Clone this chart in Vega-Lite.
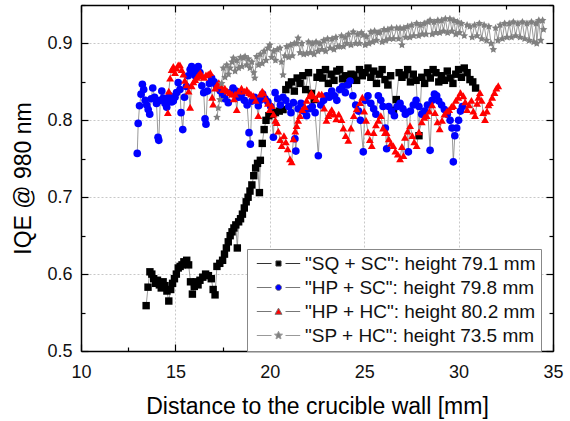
{
  "$schema": "https://vega.github.io/schema/vega-lite/v6.json",
  "width": 472,
  "height": 346,
  "autosize": {"type": "none"},
  "padding": {"left": 81, "top": 5, "right": 17, "bottom": 70},
  "config": {"view": {"stroke": null}, "font": "Liberation Sans"},
  "data": {"values": [
{"s":"A","x":13.45,"y":0.559},{"s":"A","x":13.55,"y":0.583},{"s":"A","x":13.65,"y":0.603},{"s":"A","x":13.75,"y":0.6},{"s":"A","x":13.85,"y":0.594},{"s":"A","x":13.95,"y":0.588},{"s":"A","x":14.05,"y":0.592},{"s":"A","x":14.15,"y":0.586},{"s":"A","x":14.25,"y":0.582},{"s":"A","x":14.35,"y":0.59},{"s":"A","x":14.45,"y":0.585},{"s":"A","x":14.55,"y":0.578},{"s":"A","x":14.65,"y":0.565},{"s":"A","x":14.75,"y":0.58},{"s":"A","x":14.85,"y":0.588},{"s":"A","x":14.95,"y":0.594},{"s":"A","x":15.05,"y":0.6},{"s":"A","x":15.15,"y":0.608},{"s":"A","x":15.25,"y":0.61},{"s":"A","x":15.35,"y":0.612},{"s":"A","x":15.45,"y":0.616},{"s":"A","x":15.6,"y":0.618},{"s":"A","x":15.7,"y":0.612},{"s":"A","x":15.8,"y":0.59},{"s":"A","x":15.9,"y":0.574},{"s":"A","x":16.0,"y":0.584},{"s":"A","x":16.1,"y":0.59},{"s":"A","x":16.2,"y":0.586},{"s":"A","x":16.3,"y":0.592},{"s":"A","x":16.45,"y":0.596},{"s":"A","x":16.6,"y":0.6},{"s":"A","x":16.75,"y":0.598},{"s":"A","x":16.9,"y":0.594},{"s":"A","x":17.0,"y":0.58},{"s":"A","x":17.1,"y":0.573},{"s":"A","x":17.2,"y":0.61},{"s":"A","x":17.35,"y":0.614},{"s":"A","x":17.5,"y":0.618},{"s":"A","x":17.6,"y":0.626},{"s":"A","x":17.7,"y":0.634},{"s":"A","x":17.8,"y":0.642},{"s":"A","x":17.9,"y":0.65},{"s":"A","x":18.0,"y":0.655},{"s":"A","x":18.1,"y":0.66},{"s":"A","x":18.2,"y":0.664},{"s":"A","x":18.28,"y":0.634},{"s":"A","x":18.35,"y":0.668},{"s":"A","x":18.45,"y":0.672},{"s":"A","x":18.55,"y":0.678},{"s":"A","x":18.65,"y":0.686},{"s":"A","x":18.75,"y":0.694},{"s":"A","x":18.85,"y":0.7},{"s":"A","x":18.95,"y":0.708},{"s":"A","x":19.05,"y":0.716},{"s":"A","x":19.15,"y":0.728},{"s":"A","x":19.25,"y":0.738},{"s":"A","x":19.35,"y":0.744},{"s":"A","x":19.45,"y":0.706},{"s":"A","x":19.5,"y":0.748},{"s":"A","x":19.6,"y":0.77},{"s":"A","x":19.7,"y":0.788},{"s":"A","x":19.8,"y":0.8},{"s":"A","x":19.95,"y":0.806},{"s":"A","x":20.1,"y":0.808},{"s":"A","x":20.3,"y":0.81},{"s":"A","x":20.5,"y":0.812},{"s":"A","x":20.7,"y":0.814},{"s":"A","x":20.85,"y":0.84},{"s":"A","x":21.0,"y":0.846},{"s":"A","x":21.15,"y":0.85},{"s":"A","x":21.3,"y":0.838},{"s":"A","x":21.45,"y":0.855},{"s":"A","x":21.6,"y":0.848},{"s":"A","x":21.75,"y":0.858},{"s":"A","x":21.9,"y":0.84},{"s":"A","x":22.05,"y":0.862},{"s":"A","x":22.2,"y":0.835},{"s":"A","x":22.35,"y":0.827},{"s":"A","x":22.5,"y":0.856},{"s":"A","x":22.65,"y":0.862},{"s":"A","x":22.8,"y":0.855},{"s":"A","x":22.95,"y":0.866},{"s":"A","x":23.1,"y":0.848},{"s":"A","x":23.25,"y":0.86},{"s":"A","x":23.4,"y":0.852},{"s":"A","x":23.55,"y":0.864},{"s":"A","x":23.7,"y":0.866},{"s":"A","x":23.85,"y":0.854},{"s":"A","x":24.0,"y":0.858},{"s":"A","x":24.15,"y":0.848},{"s":"A","x":24.3,"y":0.86},{"s":"A","x":24.45,"y":0.859},{"s":"A","x":24.6,"y":0.852},{"s":"A","x":24.75,"y":0.866},{"s":"A","x":24.9,"y":0.858},{"s":"A","x":25.05,"y":0.862},{"s":"A","x":25.2,"y":0.868},{"s":"A","x":25.35,"y":0.856},{"s":"A","x":25.5,"y":0.864},{"s":"A","x":25.65,"y":0.848},{"s":"A","x":25.8,"y":0.86},{"s":"A","x":25.95,"y":0.866},{"s":"A","x":26.1,"y":0.853},{"s":"A","x":26.25,"y":0.846},{"s":"A","x":26.4,"y":0.858},{"s":"A","x":26.55,"y":0.813},{"s":"A","x":26.7,"y":0.827},{"s":"A","x":26.85,"y":0.862},{"s":"A","x":27.0,"y":0.856},{"s":"A","x":27.15,"y":0.859},{"s":"A","x":27.3,"y":0.866},{"s":"A","x":27.45,"y":0.85},{"s":"A","x":27.6,"y":0.86},{"s":"A","x":27.75,"y":0.852},{"s":"A","x":27.9,"y":0.78},{"s":"A","x":28.05,"y":0.856},{"s":"A","x":28.2,"y":0.848},{"s":"A","x":28.35,"y":0.862},{"s":"A","x":28.5,"y":0.855},{"s":"A","x":28.65,"y":0.866},{"s":"A","x":28.8,"y":0.862},{"s":"A","x":28.95,"y":0.85},{"s":"A","x":29.1,"y":0.858},{"s":"A","x":29.25,"y":0.852},{"s":"A","x":29.4,"y":0.864},{"s":"A","x":29.55,"y":0.855},{"s":"A","x":29.7,"y":0.848},{"s":"A","x":29.85,"y":0.86},{"s":"A","x":30.0,"y":0.866},{"s":"A","x":30.15,"y":0.856},{"s":"A","x":30.3,"y":0.868},{"s":"A","x":30.45,"y":0.862},{"s":"A","x":30.6,"y":0.853},{"s":"A","x":30.75,"y":0.85},{"s":"A","x":30.9,"y":0.842},
{"s":"B","x":12.98,"y":0.757},{"s":"B","x":13.03,"y":0.796},{"s":"B","x":13.1,"y":0.819},{"s":"B","x":13.18,"y":0.834},{"s":"B","x":13.25,"y":0.847},{"s":"B","x":13.32,"y":0.84},{"s":"B","x":13.4,"y":0.826},{"s":"B","x":13.48,"y":0.82},{"s":"B","x":13.56,"y":0.814},{"s":"B","x":13.64,"y":0.808},{"s":"B","x":13.72,"y":0.828},{"s":"B","x":13.8,"y":0.842},{"s":"B","x":13.9,"y":0.83},{"s":"B","x":14.0,"y":0.822},{"s":"B","x":14.08,"y":0.778},{"s":"B","x":14.12,"y":0.774},{"s":"B","x":14.2,"y":0.826},{"s":"B","x":14.28,"y":0.838},{"s":"B","x":14.36,"y":0.829},{"s":"B","x":14.45,"y":0.822},{"s":"B","x":14.54,"y":0.817},{"s":"B","x":14.62,"y":0.825},{"s":"B","x":14.7,"y":0.832},{"s":"B","x":14.8,"y":0.824},{"s":"B","x":14.89,"y":0.825},{"s":"B","x":14.98,"y":0.83},{"s":"B","x":15.06,"y":0.836},{"s":"B","x":15.15,"y":0.849},{"s":"B","x":15.24,"y":0.84},{"s":"B","x":15.3,"y":0.81},{"s":"B","x":15.39,"y":0.788},{"s":"B","x":15.48,"y":0.83},{"s":"B","x":15.58,"y":0.844},{"s":"B","x":15.68,"y":0.858},{"s":"B","x":15.78,"y":0.866},{"s":"B","x":15.86,"y":0.87},{"s":"B","x":15.95,"y":0.862},{"s":"B","x":16.05,"y":0.858},{"s":"B","x":16.13,"y":0.866},{"s":"B","x":16.21,"y":0.87},{"s":"B","x":16.3,"y":0.862},{"s":"B","x":16.4,"y":0.845},{"s":"B","x":16.5,"y":0.836},{"s":"B","x":16.57,"y":0.802},{"s":"B","x":16.62,"y":0.795},{"s":"B","x":16.7,"y":0.838},{"s":"B","x":16.8,"y":0.848},{"s":"B","x":16.92,"y":0.855},{"s":"B","x":17.05,"y":0.85},{"s":"B","x":17.15,"y":0.846},{"s":"B","x":17.25,"y":0.842},{"s":"B","x":17.38,"y":0.838},{"s":"B","x":17.5,"y":0.832},{"s":"B","x":17.62,"y":0.828},{"s":"B","x":17.8,"y":0.823},{"s":"B","x":17.92,"y":0.836},{"s":"B","x":18.05,"y":0.842},{"s":"B","x":18.2,"y":0.838},{"s":"B","x":18.35,"y":0.83},{"s":"B","x":18.5,"y":0.834},{"s":"B","x":18.65,"y":0.826},{"s":"B","x":18.8,"y":0.82},{"s":"B","x":18.9,"y":0.784},{"s":"B","x":18.97,"y":0.769},{"s":"B","x":19.05,"y":0.825},{"s":"B","x":19.2,"y":0.83},{"s":"B","x":19.39,"y":0.819},{"s":"B","x":19.5,"y":0.826},{"s":"B","x":19.62,"y":0.834},{"s":"B","x":19.75,"y":0.828},{"s":"B","x":19.9,"y":0.824},{"s":"B","x":20.05,"y":0.818},{"s":"B","x":20.19,"y":0.778},{"s":"B","x":20.28,"y":0.836},{"s":"B","x":20.42,"y":0.828},{"s":"B","x":20.56,"y":0.82},{"s":"B","x":20.7,"y":0.83},{"s":"B","x":20.85,"y":0.826},{"s":"B","x":21.0,"y":0.818},{"s":"B","x":21.12,"y":0.81},{"s":"B","x":21.25,"y":0.823},{"s":"B","x":21.33,"y":0.776},{"s":"B","x":21.38,"y":0.76},{"s":"B","x":21.5,"y":0.815},{"s":"B","x":21.65,"y":0.822},{"s":"B","x":21.8,"y":0.812},{"s":"B","x":21.95,"y":0.806},{"s":"B","x":22.1,"y":0.815},{"s":"B","x":22.25,"y":0.818},{"s":"B","x":22.4,"y":0.81},{"s":"B","x":22.57,"y":0.754},{"s":"B","x":22.7,"y":0.82},{"s":"B","x":22.85,"y":0.826},{"s":"B","x":23.0,"y":0.832},{"s":"B","x":23.15,"y":0.83},{"s":"B","x":23.28,"y":0.838},{"s":"B","x":23.42,"y":0.832},{"s":"B","x":23.55,"y":0.826},{"s":"B","x":23.7,"y":0.84},{"s":"B","x":23.85,"y":0.844},{"s":"B","x":24.0,"y":0.836},{"s":"B","x":24.12,"y":0.846},{"s":"B","x":24.25,"y":0.851},{"s":"B","x":24.4,"y":0.832},{"s":"B","x":24.55,"y":0.82},{"s":"B","x":24.7,"y":0.812},{"s":"B","x":24.8,"y":0.8},{"s":"B","x":24.95,"y":0.759},{"s":"B","x":25.05,"y":0.826},{"s":"B","x":25.2,"y":0.832},{"s":"B","x":25.35,"y":0.822},{"s":"B","x":25.5,"y":0.815},{"s":"B","x":25.62,"y":0.808},{"s":"B","x":25.75,"y":0.832},{"s":"B","x":25.88,"y":0.826},{"s":"B","x":26.0,"y":0.818},{"s":"B","x":26.12,"y":0.79},{"s":"B","x":26.19,"y":0.763},{"s":"B","x":26.3,"y":0.818},{"s":"B","x":26.45,"y":0.812},{"s":"B","x":26.6,"y":0.806},{"s":"B","x":26.75,"y":0.818},{"s":"B","x":26.9,"y":0.822},{"s":"B","x":27.05,"y":0.815},{"s":"B","x":27.18,"y":0.808},{"s":"B","x":27.25,"y":0.81},{"s":"B","x":27.34,"y":0.759},{"s":"B","x":27.45,"y":0.812},{"s":"B","x":27.6,"y":0.82},{"s":"B","x":27.75,"y":0.826},{"s":"B","x":27.9,"y":0.818},{"s":"B","x":28.05,"y":0.808},{"s":"B","x":28.2,"y":0.812},{"s":"B","x":28.35,"y":0.82},{"s":"B","x":28.49,"y":0.761},{"s":"B","x":28.6,"y":0.826},{"s":"B","x":28.72,"y":0.834},{"s":"B","x":28.84,"y":0.832},{"s":"B","x":28.95,"y":0.825},{"s":"B","x":29.1,"y":0.82},{"s":"B","x":29.25,"y":0.814},{"s":"B","x":29.4,"y":0.808},{"s":"B","x":29.55,"y":0.8},{"s":"B","x":29.65,"y":0.79},{"s":"B","x":29.72,"y":0.746},{"s":"B","x":29.8,"y":0.78},{"s":"B","x":29.9,"y":0.79},{"s":"B","x":30.0,"y":0.8},{"s":"B","x":30.1,"y":0.812},{"s":"B","x":30.2,"y":0.818},
{"s":"C","x":14.6,"y":0.81},{"s":"C","x":14.65,"y":0.838},{"s":"C","x":14.72,"y":0.855},{"s":"C","x":14.8,"y":0.866},{"s":"C","x":14.89,"y":0.87},{"s":"C","x":14.98,"y":0.862},{"s":"C","x":15.06,"y":0.868},{"s":"C","x":15.15,"y":0.872},{"s":"C","x":15.24,"y":0.872},{"s":"C","x":15.33,"y":0.866},{"s":"C","x":15.42,"y":0.86},{"s":"C","x":15.5,"y":0.852},{"s":"C","x":15.6,"y":0.846},{"s":"C","x":15.7,"y":0.838},{"s":"C","x":15.78,"y":0.817},{"s":"C","x":15.86,"y":0.845},{"s":"C","x":15.95,"y":0.85},{"s":"C","x":16.05,"y":0.853},{"s":"C","x":16.13,"y":0.856},{"s":"C","x":16.22,"y":0.859},{"s":"C","x":16.32,"y":0.862},{"s":"C","x":16.42,"y":0.858},{"s":"C","x":16.52,"y":0.856},{"s":"C","x":16.62,"y":0.859},{"s":"C","x":16.74,"y":0.86},{"s":"C","x":16.85,"y":0.862},{"s":"C","x":16.95,"y":0.83},{"s":"C","x":17.0,"y":0.821},{"s":"C","x":17.1,"y":0.842},{"s":"C","x":17.2,"y":0.846},{"s":"C","x":17.3,"y":0.849},{"s":"C","x":17.4,"y":0.845},{"s":"C","x":17.52,"y":0.84},{"s":"C","x":17.62,"y":0.842},{"s":"C","x":17.75,"y":0.838},{"s":"C","x":17.88,"y":0.836},{"s":"C","x":18.0,"y":0.834},{"s":"C","x":18.1,"y":0.828},{"s":"C","x":18.16,"y":0.834},{"s":"C","x":18.25,"y":0.814},{"s":"C","x":18.35,"y":0.838},{"s":"C","x":18.5,"y":0.842},{"s":"C","x":18.65,"y":0.838},{"s":"C","x":18.78,"y":0.84},{"s":"C","x":18.9,"y":0.836},{"s":"C","x":19.0,"y":0.834},{"s":"C","x":19.12,"y":0.832},{"s":"C","x":19.25,"y":0.826},{"s":"C","x":19.39,"y":0.806},{"s":"C","x":19.5,"y":0.834},{"s":"C","x":19.6,"y":0.838},{"s":"C","x":19.66,"y":0.836},{"s":"C","x":19.78,"y":0.828},{"s":"C","x":19.9,"y":0.822},{"s":"C","x":20.0,"y":0.814},{"s":"C","x":20.1,"y":0.819},{"s":"C","x":20.2,"y":0.808},{"s":"C","x":20.3,"y":0.8},{"s":"C","x":20.37,"y":0.797},{"s":"C","x":20.45,"y":0.786},{"s":"C","x":20.55,"y":0.775},{"s":"C","x":20.63,"y":0.767},{"s":"C","x":20.75,"y":0.78},{"s":"C","x":20.85,"y":0.772},{"s":"C","x":20.95,"y":0.763},{"s":"C","x":21.07,"y":0.75},{"s":"C","x":21.16,"y":0.746},{"s":"C","x":21.25,"y":0.776},{"s":"C","x":21.35,"y":0.786},{"s":"C","x":21.42,"y":0.793},{"s":"C","x":21.5,"y":0.8},{"s":"C","x":21.6,"y":0.806},{"s":"C","x":21.72,"y":0.814},{"s":"C","x":21.85,"y":0.818},{"s":"C","x":21.95,"y":0.826},{"s":"C","x":22.1,"y":0.832},{"s":"C","x":22.2,"y":0.836},{"s":"C","x":22.3,"y":0.832},{"s":"C","x":22.45,"y":0.828},{"s":"C","x":22.6,"y":0.834},{"s":"C","x":22.75,"y":0.834},{"s":"C","x":22.88,"y":0.816},{"s":"C","x":23.0,"y":0.8},{"s":"C","x":23.1,"y":0.806},{"s":"C","x":23.18,"y":0.81},{"s":"C","x":23.28,"y":0.814},{"s":"C","x":23.4,"y":0.808},{"s":"C","x":23.52,"y":0.802},{"s":"C","x":23.65,"y":0.808},{"s":"C","x":23.8,"y":0.801},{"s":"C","x":23.9,"y":0.79},{"s":"C","x":24.02,"y":0.78},{"s":"C","x":24.16,"y":0.774},{"s":"C","x":24.3,"y":0.79},{"s":"C","x":24.45,"y":0.806},{"s":"C","x":24.6,"y":0.815},{"s":"C","x":24.78,"y":0.823},{"s":"C","x":24.9,"y":0.83},{"s":"C","x":25.0,"y":0.812},{"s":"C","x":25.1,"y":0.8},{"s":"C","x":25.2,"y":0.785},{"s":"C","x":25.3,"y":0.775},{"s":"C","x":25.4,"y":0.767},{"s":"C","x":25.5,"y":0.784},{"s":"C","x":25.62,"y":0.794},{"s":"C","x":25.75,"y":0.8},{"s":"C","x":25.88,"y":0.806},{"s":"C","x":26.0,"y":0.79},{"s":"C","x":26.1,"y":0.784},{"s":"C","x":26.19,"y":0.784},{"s":"C","x":26.3,"y":0.776},{"s":"C","x":26.42,"y":0.77},{"s":"C","x":26.54,"y":0.767},{"s":"C","x":26.65,"y":0.76},{"s":"C","x":26.78,"y":0.756},{"s":"C","x":26.9,"y":0.75},{"s":"C","x":27.0,"y":0.766},{"s":"C","x":27.08,"y":0.754},{"s":"C","x":27.16,"y":0.778},{"s":"C","x":27.3,"y":0.786},{"s":"C","x":27.43,"y":0.793},{"s":"C","x":27.55,"y":0.78},{"s":"C","x":27.65,"y":0.772},{"s":"C","x":27.78,"y":0.767},{"s":"C","x":27.9,"y":0.785},{"s":"C","x":28.05,"y":0.798},{"s":"C","x":28.18,"y":0.804},{"s":"C","x":28.31,"y":0.806},{"s":"C","x":28.45,"y":0.812},{"s":"C","x":28.6,"y":0.82},{"s":"C","x":28.75,"y":0.81},{"s":"C","x":28.88,"y":0.798},{"s":"C","x":29.0,"y":0.789},{"s":"C","x":29.12,"y":0.8},{"s":"C","x":29.25,"y":0.808},{"s":"C","x":29.38,"y":0.812},{"s":"C","x":29.5,"y":0.814},{"s":"C","x":29.62,"y":0.818},{"s":"C","x":29.72,"y":0.819},{"s":"C","x":29.85,"y":0.826},{"s":"C","x":29.98,"y":0.83},{"s":"C","x":30.1,"y":0.836},{"s":"C","x":30.25,"y":0.832},{"s":"C","x":30.35,"y":0.824},{"s":"C","x":30.45,"y":0.814},{"s":"C","x":30.55,"y":0.82},{"s":"C","x":30.68,"y":0.826},{"s":"C","x":30.78,"y":0.812},{"s":"C","x":30.87,"y":0.806},{"s":"C","x":30.98,"y":0.822},{"s":"C","x":31.05,"y":0.83},{"s":"C","x":31.13,"y":0.836},{"s":"C","x":31.22,"y":0.826},{"s":"C","x":31.3,"y":0.81},{"s":"C","x":31.4,"y":0.801},{"s":"C","x":31.5,"y":0.812},{"s":"C","x":31.58,"y":0.82},{"s":"C","x":31.66,"y":0.823},{"s":"C","x":31.78,"y":0.83},{"s":"C","x":31.9,"y":0.836},{"s":"C","x":32.0,"y":0.842},{"s":"C","x":32.1,"y":0.845},
{"s":"D","x":17.2,"y":0.804},{"s":"D","x":17.27,"y":0.816},{"s":"D","x":17.36,"y":0.827},{"s":"D","x":17.45,"y":0.848},{"s":"D","x":17.54,"y":0.868},{"s":"D","x":17.63,"y":0.856},{"s":"D","x":17.72,"y":0.872},{"s":"D","x":17.81,"y":0.86},{"s":"D","x":17.9,"y":0.868},{"s":"D","x":18.0,"y":0.876},{"s":"D","x":18.07,"y":0.881},{"s":"D","x":18.16,"y":0.864},{"s":"D","x":18.25,"y":0.878},{"s":"D","x":18.35,"y":0.868},{"s":"D","x":18.45,"y":0.882},{"s":"D","x":18.52,"y":0.87},{"s":"D","x":18.6,"y":0.881},{"s":"D","x":18.69,"y":0.883},{"s":"D","x":18.78,"y":0.872},{"s":"D","x":18.86,"y":0.88},{"s":"D","x":18.95,"y":0.868},{"s":"D","x":19.05,"y":0.876},{"s":"D","x":19.15,"y":0.862},{"s":"D","x":19.2,"y":0.855},{"s":"D","x":19.3,"y":0.883},{"s":"D","x":19.4,"y":0.872},{"s":"D","x":19.5,"y":0.886},{"s":"D","x":19.6,"y":0.874},{"s":"D","x":19.7,"y":0.89},{"s":"D","x":19.8,"y":0.878},{"s":"D","x":19.9,"y":0.894},{"s":"D","x":20.0,"y":0.898},{"s":"D","x":20.1,"y":0.882},{"s":"D","x":20.2,"y":0.89},{"s":"D","x":20.3,"y":0.878},{"s":"D","x":20.4,"y":0.892},{"s":"D","x":20.54,"y":0.894},{"s":"D","x":20.62,"y":0.876},{"s":"D","x":20.7,"y":0.859},{"s":"D","x":20.8,"y":0.884},{"s":"D","x":20.9,"y":0.896},{"s":"D","x":21.0,"y":0.882},{"s":"D","x":21.1,"y":0.898},{"s":"D","x":21.2,"y":0.884},{"s":"D","x":21.3,"y":0.9},{"s":"D","x":21.42,"y":0.9},{"s":"D","x":21.5,"y":0.907},{"s":"D","x":21.6,"y":0.888},{"s":"D","x":21.7,"y":0.9},{"s":"D","x":21.8,"y":0.886},{"s":"D","x":21.95,"y":0.887},{"s":"D","x":22.05,"y":0.902},{"s":"D","x":22.15,"y":0.888},{"s":"D","x":22.25,"y":0.9},{"s":"D","x":22.35,"y":0.886},{"s":"D","x":22.45,"y":0.902},{"s":"D","x":22.55,"y":0.89},{"s":"D","x":22.66,"y":0.9},{"s":"D","x":22.76,"y":0.892},{"s":"D","x":22.86,"y":0.904},{"s":"D","x":22.96,"y":0.89},{"s":"D","x":23.06,"y":0.906},{"s":"D","x":23.19,"y":0.894},{"s":"D","x":23.3,"y":0.906},{"s":"D","x":23.4,"y":0.892},{"s":"D","x":23.5,"y":0.908},{"s":"D","x":23.6,"y":0.896},{"s":"D","x":23.7,"y":0.896},{"s":"D","x":23.8,"y":0.91},{"s":"D","x":23.9,"y":0.896},{"s":"D","x":24.0,"y":0.908},{"s":"D","x":24.07,"y":0.9},{"s":"D","x":24.17,"y":0.912},{"s":"D","x":24.3,"y":0.898},{"s":"D","x":24.42,"y":0.915},{"s":"D","x":24.55,"y":0.9},{"s":"D","x":24.65,"y":0.912},{"s":"D","x":24.75,"y":0.9},{"s":"D","x":24.85,"y":0.914},{"s":"D","x":24.95,"y":0.911},{"s":"D","x":25.05,"y":0.898},{"s":"D","x":25.13,"y":0.909},{"s":"D","x":25.25,"y":0.9},{"s":"D","x":25.35,"y":0.915},{"s":"D","x":25.45,"y":0.902},{"s":"D","x":25.55,"y":0.916},{"s":"D","x":25.65,"y":0.904},{"s":"D","x":25.74,"y":0.914},{"s":"D","x":25.84,"y":0.915},{"s":"D","x":25.95,"y":0.902},{"s":"D","x":26.05,"y":0.918},{"s":"D","x":26.15,"y":0.904},{"s":"D","x":26.25,"y":0.918},{"s":"D","x":26.35,"y":0.906},{"s":"D","x":26.45,"y":0.92},{"s":"D","x":26.55,"y":0.906},{"s":"D","x":26.72,"y":0.92},{"s":"D","x":26.82,"y":0.906},{"s":"D","x":26.9,"y":0.92},{"s":"D","x":27.0,"y":0.898},{"s":"D","x":27.1,"y":0.92},{"s":"D","x":27.2,"y":0.908},{"s":"D","x":27.3,"y":0.922},{"s":"D","x":27.42,"y":0.908},{"s":"D","x":27.52,"y":0.924},{"s":"D","x":27.62,"y":0.91},{"s":"D","x":27.78,"y":0.926},{"s":"D","x":27.88,"y":0.91},{"s":"D","x":27.98,"y":0.924},{"s":"D","x":28.08,"y":0.912},{"s":"D","x":28.18,"y":0.926},{"s":"D","x":28.28,"y":0.912},{"s":"D","x":28.38,"y":0.928},{"s":"D","x":28.49,"y":0.93},{"s":"D","x":28.6,"y":0.912},{"s":"D","x":28.7,"y":0.928},{"s":"D","x":28.8,"y":0.914},{"s":"D","x":28.9,"y":0.93},{"s":"D","x":29.0,"y":0.914},{"s":"D","x":29.1,"y":0.93},{"s":"D","x":29.2,"y":0.916},{"s":"D","x":29.3,"y":0.932},{"s":"D","x":29.42,"y":0.914},{"s":"D","x":29.54,"y":0.932},{"s":"D","x":29.65,"y":0.916},{"s":"D","x":29.75,"y":0.93},{"s":"D","x":29.85,"y":0.912},{"s":"D","x":29.95,"y":0.928},{"s":"D","x":30.05,"y":0.914},{"s":"D","x":30.15,"y":0.926},{"s":"D","x":30.3,"y":0.91},{"s":"D","x":30.45,"y":0.924},{"s":"D","x":30.6,"y":0.922},{"s":"D","x":30.72,"y":0.908},{"s":"D","x":30.85,"y":0.924},{"s":"D","x":30.98,"y":0.91},{"s":"D","x":31.1,"y":0.926},{"s":"D","x":31.22,"y":0.906},{"s":"D","x":31.35,"y":0.924},{"s":"D","x":31.48,"y":0.904},{"s":"D","x":31.6,"y":0.922},{"s":"D","x":31.72,"y":0.9},{"s":"D","x":31.84,"y":0.892},{"s":"D","x":31.96,"y":0.92},{"s":"D","x":32.08,"y":0.904},{"s":"D","x":32.2,"y":0.924},{"s":"D","x":32.32,"y":0.906},{"s":"D","x":32.44,"y":0.926},{"s":"D","x":32.56,"y":0.908},{"s":"D","x":32.68,"y":0.926},{"s":"D","x":32.8,"y":0.908},{"s":"D","x":32.9,"y":0.928},{"s":"D","x":33.02,"y":0.91},{"s":"D","x":33.14,"y":0.926},{"s":"D","x":33.26,"y":0.908},{"s":"D","x":33.38,"y":0.928},{"s":"D","x":33.5,"y":0.906},{"s":"D","x":33.62,"y":0.926},{"s":"D","x":33.74,"y":0.904},{"s":"D","x":33.86,"y":0.928},{"s":"D","x":33.98,"y":0.902},{"s":"D","x":34.1,"y":0.926},{"s":"D","x":34.14,"y":0.9},{"s":"D","x":34.25,"y":0.93},{"s":"D","x":34.35,"y":0.904},{"s":"D","x":34.45,"y":0.93},{"s":"D","x":34.5,"y":0.918}
  ]},
  "resolve": {"scale": {"shape": "independent", "fill": "independent", "stroke": "independent"}, "axis": {"x": "independent", "y": "independent"}},
  "layer": [
    {
      "mark": {"type": "line", "stroke": "#808080", "strokeWidth": 0.8},
      "encoding": {
        "x": {"field": "x", "type": "quantitative", "scale": {"domain": [10, 35], "nice": false, "zero": false},
          "axis": {"orient": "bottom", "title": null, "labels": false, "domain": false, "grid": false, "values": [12.5, 17.5, 22.5, 27.5, 32.5], "tickSize": -4, "tickColor": "#000", "tickWidth": 1.2}},
        "y": {"field": "y", "type": "quantitative", "scale": {"domain": [0.5, 0.95], "nice": false, "zero": false},
          "axis": {"orient": "left", "title": null, "labels": false, "domain": false, "grid": false, "values": [0.55, 0.65, 0.75, 0.85, 0.95], "tickSize": -4, "tickColor": "#000", "tickWidth": 1.2}},
        "detail": {"field": "s"}
      }
    },
    {
      "mark": {"type": "point", "filled": true, "opacity": 1, "strokeWidth": 0},
      "encoding": {
        "x": {"field": "x", "type": "quantitative", "scale": {"domain": [10, 35], "nice": false, "zero": false},
          "axis": {"orient": "bottom", "title": "Distance to the crucible wall [mm]", "values": [10, 15, 20, 25, 30, 35],
            "labelFontSize": 18, "labelColor": "#111", "labelPadding": 19, "labelFlush": false, "labelOverlap": false,
            "titleFontSize": 23, "titleFontWeight": "normal", "titleColor": "#000", "titlePadding": 14,
            "domainColor": "#000", "domainWidth": 1.5,
            "tickColor": "#000", "tickWidth": 1.2, "tickSize": -7,
            "grid": true, "gridColor": "#c8c8c8", "gridDash": [2, 2], "gridWidth": 1}},
        "y": {"field": "y", "type": "quantitative", "scale": {"domain": [0.5, 0.95], "nice": false, "zero": false},
          "axis": {"orient": "left", "title": "IQE @ 980 nm", "values": [0.5, 0.6, 0.7, 0.8, 0.9], "format": ".1f",
            "labelFontSize": 18, "labelColor": "#111", "labelPadding": 16, "labelFlush": false, "labelOverlap": false,
            "titleFontSize": 23, "titleFontWeight": "normal", "titleColor": "#000", "titlePadding": 11,
            "domainColor": "#000", "domainWidth": 1.5,
            "tickColor": "#000", "tickWidth": 1.2, "tickSize": -7,
            "grid": true, "gridColor": "#c8c8c8", "gridDash": [2, 2], "gridWidth": 1}},
        "color": {"field": "s", "type": "nominal", "scale": {"domain": ["A", "B", "C", "D"], "range": ["#000000", "#0000ff", "#ff0000", "#808080"]}, "legend": null},
        "shape": {"field": "s", "type": "nominal", "scale": {"domain": ["A", "B", "C", "D"], "range": ["square", "circle", "triangle-up", "M0,-1L0.29,-0.4L0.951,-0.309L0.47,0.153L0.588,0.809L0,0.5L-0.588,0.809L-0.47,0.153L-0.951,-0.309L-0.29,-0.4Z"]}, "legend": null},
        "size": {"field": "s", "type": "nominal", "scale": {"domain": ["A", "B", "C", "D"], "range": [55, 65, 85, 115]}, "legend": null}
      }
    },
    {
      "transform": [{"filter": "datum.s == 'none'"}],
      "mark": {"type": "point", "filled": true, "opacity": 1, "strokeWidth": 1},
      "encoding": {
        "x": {"field": "x", "type": "quantitative", "scale": {"domain": [10, 35], "nice": false, "zero": false},
          "axis": {"orient": "top", "title": null, "labels": false, "grid": false, "values": [10, 15, 20, 25, 30, 35],
            "domainColor": "#000", "domainWidth": 1.5, "tickColor": "#000", "tickWidth": 1.2, "tickSize": -7}},
        "y": {"field": "y", "type": "quantitative", "scale": {"domain": [0.5, 0.95], "nice": false, "zero": false},
          "axis": {"orient": "right", "title": null, "labels": false, "grid": false, "values": [0.5, 0.6, 0.7, 0.8, 0.9],
            "domainColor": "#000", "domainWidth": 1.5, "tickColor": "#000", "tickWidth": 1.2, "tickSize": -7}},
        "shape": {"field": "s", "type": "nominal",
          "scale": {"domain": ["A", "B", "C", "D"], "range": [
            "M-3.1,0H-1M1,0H3.1M-0.36,-0.36H0.36V0.36H-0.36Z",
            "M-3.1,0H-1M1,0H3.1M0.43,0A0.43,0.43 0 1,1 -0.43,0A0.43,0.43 0 1,1 0.43,0Z",
            "M-3.1,0H-1M1,0H3.1M-0.5,0.4L0,-0.48L0.5,0.4Z",
            "M-3.1,0H-1M1,0H3.1M0,-0.6L0.159,-0.218L0.571,-0.185L0.257,0.083L0.353,0.485L0,0.27L-0.353,0.485L-0.257,0.083L-0.571,-0.185L-0.159,-0.218Z"]},
          "legend": {"title": null, "orient": "none", "legendX": 166, "legendY": 244, "padding": 5, "strokeColor": "#888", "fillColor": "#fff",
            "symbolSize": 196, "symbolOffset": 17, "labelOffset": 17, "labelFontSize": 19, "labelColor": "#111", "rowPadding": 4, "labelLimit": 400,
            "symbolOpacity": 1, "symbolStrokeWidth": 1,
            "labelExpr": "datum.value == 'A' ? '\"SQ + SC\": height 79.1 mm' : datum.value == 'B' ? '\"HP + SC\": height 79.8 mm' : datum.value == 'C' ? '\"HP + HC\": height 80.2 mm' : '\"SP + HC\": height 73.5 mm'"}},
        "fill": {"field": "s", "type": "nominal", "scale": {"domain": ["A", "B", "C", "D"], "range": ["#000000", "#0000ff", "#ff0000", "#808080"]},
          "legend": {"title": null, "orient": "none", "legendX": 166, "legendY": 244, "padding": 5, "strokeColor": "#888", "fillColor": "#fff",
            "symbolSize": 196, "symbolOffset": 17, "labelOffset": 17, "labelFontSize": 19, "labelColor": "#111", "rowPadding": 4, "labelLimit": 400,
            "symbolOpacity": 1, "symbolStrokeWidth": 1,
            "labelExpr": "datum.value == 'A' ? '\"SQ + SC\": height 79.1 mm' : datum.value == 'B' ? '\"HP + SC\": height 79.8 mm' : datum.value == 'C' ? '\"HP + HC\": height 80.2 mm' : '\"SP + HC\": height 73.5 mm'"}},
        "stroke": {"field": "s", "type": "nominal", "scale": {"domain": ["A", "B", "C", "D"], "range": ["#333333", "#777777", "#777777", "#999999"]},
          "legend": {"title": null, "orient": "none", "legendX": 166, "legendY": 244, "padding": 5, "strokeColor": "#888", "fillColor": "#fff",
            "symbolSize": 196, "symbolOffset": 17, "labelOffset": 17, "labelFontSize": 19, "labelColor": "#111", "rowPadding": 4, "labelLimit": 400,
            "symbolOpacity": 1, "symbolStrokeWidth": 1,
            "labelExpr": "datum.value == 'A' ? '\"SQ + SC\": height 79.1 mm' : datum.value == 'B' ? '\"HP + SC\": height 79.8 mm' : datum.value == 'C' ? '\"HP + HC\": height 80.2 mm' : '\"SP + HC\": height 73.5 mm'"}}
      }
    },
    {
      "transform": [{"filter": "datum.s == 'none'"}],
      "mark": {"type": "point"},
      "encoding": {
        "x": {"field": "x", "type": "quantitative", "scale": {"domain": [10, 35], "nice": false, "zero": false},
          "axis": {"orient": "top", "title": null, "labels": false, "domain": false, "grid": false, "values": [12.5, 17.5, 22.5, 27.5, 32.5], "tickSize": -4, "tickColor": "#000", "tickWidth": 1.2}},
        "y": {"field": "y", "type": "quantitative", "scale": {"domain": [0.5, 0.95], "nice": false, "zero": false},
          "axis": {"orient": "right", "title": null, "labels": false, "domain": false, "grid": false, "values": [0.55, 0.65, 0.75, 0.85, 0.95], "tickSize": -4, "tickColor": "#000", "tickWidth": 1.2}}
      }
    }
  ]
}
